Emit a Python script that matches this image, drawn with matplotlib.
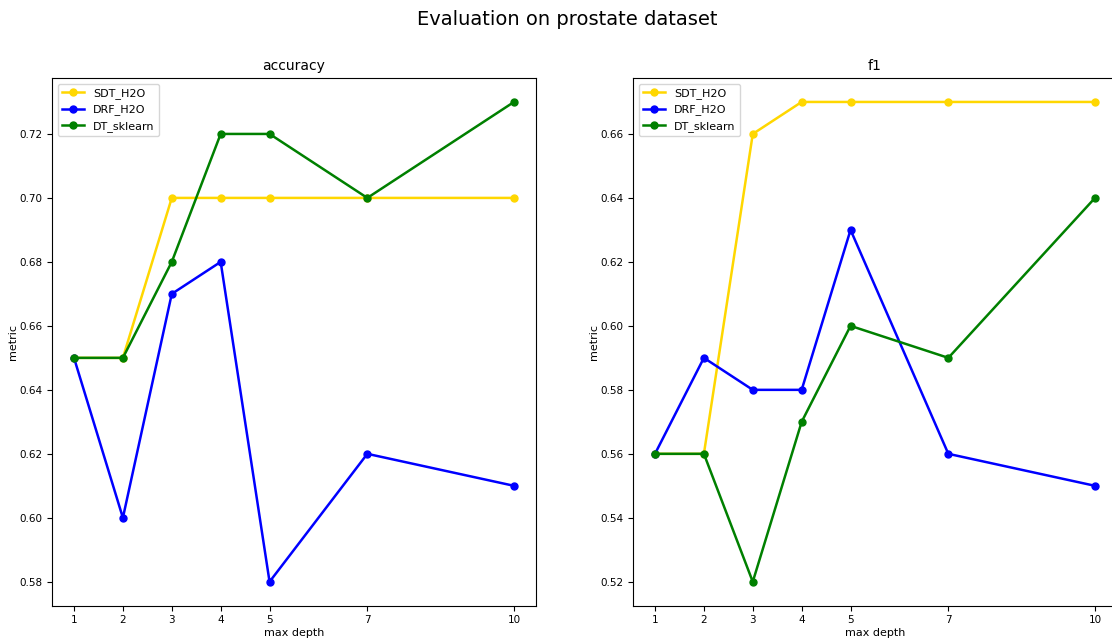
import matplotlib
matplotlib.use("Agg")
from matplotlib import pyplot as plt

depths = [1, 2, 3, 4, 5, 7, 10]

acc_sdt = [0.65, 0.65, 0.70, 0.70, 0.70, 0.70, 0.70]
acc_drf = [0.65, 0.60, 0.67, 0.68, 0.58, 0.62, 0.61]
acc_dt = [0.65, 0.65, 0.68, 0.72, 0.72, 0.70, 0.73]

f1_sdt = [0.56, 0.56, 0.66, 0.67, 0.67, 0.67, 0.67]
f1_drf = [0.56, 0.59, 0.58, 0.58, 0.63, 0.56, 0.55]
f1_dt = [0.56, 0.56, 0.52, 0.57, 0.60, 0.59, 0.64]

fig, axes = plt.subplots(1, 2, figsize=(11.12, 6.39), dpi=100)
# the original panels run slightly past the right edge of the picture
axes[0].set_position([52 / 1112, 0.052, 484 / 1112, 0.826])
axes[1].set_position([633 / 1112, 0.052, 484 / 1112, 0.826])
fig.suptitle("Evaluation on prostate dataset", fontsize=14, x=0.51, y=0.985)

panels = [("accuracy", acc_sdt, acc_drf, acc_dt), ("f1", f1_sdt, f1_drf, f1_dt)]
for ax, (name, sdt, drf, dt) in zip(axes, panels):
    ax.plot(depths, sdt, "o-", color="gold", label="SDT_H2O", lw=1.8, ms=5)
    ax.plot(depths, drf, "o-", color="blue", label="DRF_H2O", lw=1.8, ms=5)
    ax.plot(depths, dt, "o-", color="green", label="DT_sklearn", lw=1.8, ms=5)
    ax.set_title(name, fontsize=10)
    ax.set_xlabel("max depth", fontsize=8, labelpad=2)
    ax.set_ylabel("metric", fontsize=8, labelpad=1)
    ax.set_xticks(depths)
    ax.tick_params(labelsize=7.5)
    ax.legend(loc="upper left", fontsize=8)

plt.savefig("out.png", dpi=100)
